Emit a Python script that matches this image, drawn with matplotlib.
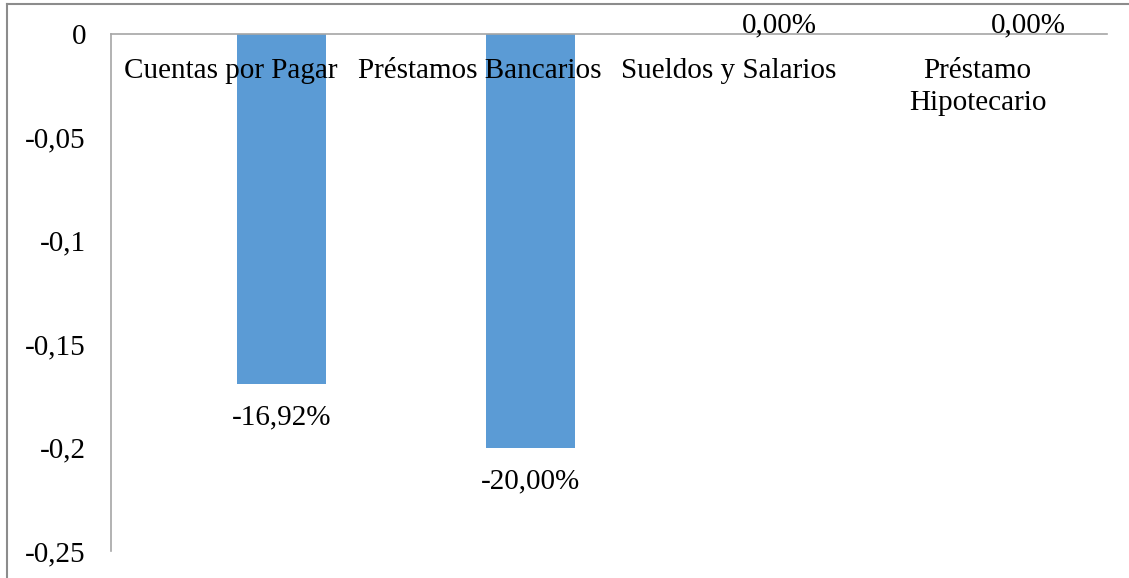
import matplotlib.pyplot as plt
import numpy as np
from matplotlib.lines import Line2D

categorias = ['Cuentas por Pagar', 'Préstamos Bancarios', 'Sueldos y Salarios', 'Préstamo\nHipotecario']
valores = [-0.1692, -0.20, 0.0, 0.0]
etiquetas = ['-16,92%', '-20,00%', '0,00%', '0,00%']
yticks = [0, -0.05, -0.1, -0.15, -0.2, -0.25]
ytick_labels = ['0', '-0,05', '-0,1', '-0,15', '-0,2', '-0,25']

plt.rcParams['font.family'] = ['Liberation Serif', 'DejaVu Serif']
W, H = 1129, 578
fs = 21
fig = plt.figure(figsize=(W / 100, H / 100), dpi=100)
ax = fig.add_axes([111 / W, 1 - 551 / H, (1107 - 111) / W, (551 - 34) / H])

x = np.arange(len(categorias))
offset = 0.185
ax.bar(x + offset, valores, width=0.36, color='#5b9bd5')

ax.set_xlim(-0.5, len(categorias) - 0.5)
ax.set_ylim(-0.25, 0)
ax.set_yticks(yticks)
ax.set_yticklabels(ytick_labels, fontsize=fs)
ax.tick_params(axis='y', length=0, pad=18)
ax.set_xticks([])

for s in ['bottom', 'right']:
    ax.spines[s].set_visible(False)
for s in ['left', 'top']:
    ax.spines[s].set_color('#a6a6a6')
    ax.spines[s].set_linewidth(1.2)

# nombres de categoria debajo del eje en 0
for i, c in enumerate(categorias):
    ax.annotate(c, (i - 0.02, 0), xytext=(0, -17), textcoords='offset points',
                ha='center', va='top', fontsize=fs, linespacing=1.32)

for i, (v, t) in enumerate(zip(valores, etiquetas)):
    if v < 0:
        ax.annotate(t, (i + offset, v), xytext=(0, -15), textcoords='offset points',
                    ha='center', va='top', fontsize=fs)
    else:
        ax.annotate(t, (i + offset, v), xytext=(0, -3), textcoords='offset points',
                    ha='center', va='bottom', fontsize=fs)

# borde del grafico
fig.add_artist(Line2D([7 / W, 7 / W], [0, 1 - 4 / H], color='#8c8c8c', lw=1.5))
fig.add_artist(Line2D([7 / W, 1], [1 - 4 / H, 1 - 4 / H], color='#8c8c8c', lw=1.5))

fig.savefig('out.png', dpi=100)
